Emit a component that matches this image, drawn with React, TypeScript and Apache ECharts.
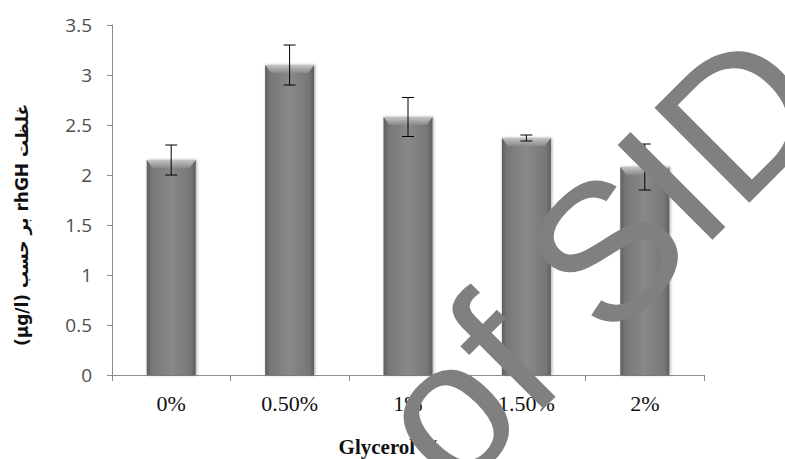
import React, { useEffect, useRef } from "react";
import * as echarts from "echarts";

const categories = ["0%", "0.50%", "1%", "1.50%", "2%"];
const values = [2.15, 3.1, 2.58, 2.37, 2.08];
const errors = [0.15, 0.2, 0.195, 0.03, 0.23];
const yTicks = [0, 0.5, 1, 1.5, 2, 2.5, 3, 3.5];
const xTitle = "Glycerol %";
const yTitle = "(µg/l) بر حسب rhGH غلظت";
const watermark = "of SID";

const BAR_W = 49;

export default function App() {
  const ref = useRef<HTMLDivElement>(null);
  useEffect(() => {
    if (!ref.current) return;
    const chart = echarts.init(ref.current, null, { renderer: "svg" });
    const barGrad = new echarts.graphic.LinearGradient(0, 0, 1, 0, [
      { offset: 0, color: "#5e5e5e" },
      { offset: 0.1, color: "#767676" },
      { offset: 0.5, color: "#898989" },
      { offset: 0.9, color: "#767676" },
      { offset: 1, color: "#5e5e5e" },
    ]);
    chart.setOption({
      animation: false,
      grid: { left: 112, right: 81, top: 25, bottom: 84, containLabel: false },
      xAxis: {
        type: "category",
        data: categories,
        axisLine: { show: true, lineStyle: { color: "#8c8c8c", width: 1 } },
        axisTick: { show: true, length: 6, lineStyle: { color: "#8c8c8c" } },
        axisLabel: {
          color: "#111",
          fontFamily: "Liberation Serif",
          fontSize: 22,
          margin: 17,
        },
      },
      yAxis: {
        type: "value",
        min: 0,
        max: yTicks[yTicks.length - 1],
        interval: 0.5,
        axisLine: { show: true, lineStyle: { color: "#8c8c8c", width: 1 } },
        axisTick: { show: true, length: 5, inside: false, lineStyle: { color: "#8c8c8c" } },
        splitLine: { show: false },
        axisLabel: {
          color: "#505050",
          fontFamily: "Open Sans",
          fontSize: 19,
          margin: 20,
        },
      },
      series: [
        {
          type: "bar",
          data: values,
          barWidth: BAR_W,
          itemStyle: {
            color: barGrad,
            shadowBlur: 3,
            shadowColor: "rgba(0,0,0,0.35)",
            shadowOffsetX: 1,
          },
          z: 2,
        },
        {
          type: "custom",
          data: values.map((v, i) => [i, v, errors[i]]),
          z: 5,
          renderItem: (params: any, api: any) => {
            const i = api.value(0);
            const v = api.value(1);
            const e = api.value(2);
            const top = api.coord([i, v + e]);
            const bot = api.coord([i, v - e]);
            const barTop = api.coord([i, v]);
            const half = BAR_W / 2;
            const cap = 6;
            const bevel = 8;
            return {
              type: "group",
              children: [
                {
                  type: "polygon",
                  shape: {
                    points: [
                      [barTop[0] - half, barTop[1]],
                      [barTop[0] + half, barTop[1]],
                      [barTop[0] + half - 6, barTop[1] + bevel],
                      [barTop[0] - half + 6, barTop[1] + bevel],
                    ],
                  },
                  style: {
                    fill: new echarts.graphic.LinearGradient(0, 0, 0, 1, [
                      { offset: 0, color: "#c4c4c4" },
                      { offset: 1, color: "#8a8a8a" },
                    ]),
                  },
                },
                {
                  type: "line",
                  shape: { x1: top[0], y1: top[1], x2: bot[0], y2: bot[1] },
                  style: { stroke: "#000", lineWidth: 1 },
                },
                {
                  type: "line",
                  shape: { x1: top[0] - cap, y1: top[1], x2: top[0] + cap, y2: top[1] },
                  style: { stroke: "#000", lineWidth: 1 },
                },
                {
                  type: "line",
                  shape: { x1: bot[0] - cap, y1: bot[1], x2: bot[0] + cap, y2: bot[1] },
                  style: { stroke: "#000", lineWidth: 1 },
                },
              ],
            };
          },
        },
      ],
      graphic: [
        {
          type: "text",
          x: 22,
          y: 225,
          rotation: Math.PI / 2,
          style: {
            text: yTitle,
            fontFamily: "DejaVu Sans",
            fontWeight: "bold",
            fontSize: 17,
            fill: "#111",
            align: "center",
            verticalAlign: "middle",
          },
        },
        {
          type: "text",
          x: 390,
          y: 447,
          style: {
            text: xTitle,
            fontFamily: "Liberation Serif",
            fontWeight: "bold",
            fontSize: 21,
            fill: "#111",
            align: "center",
            verticalAlign: "middle",
          },
        },
        {
          type: "text",
          x: 598,
          y: 258,
          rotation: Math.PI / 4,
          z: 100,
          style: {
            text: watermark,
            fontFamily: "Liberation Sans",
            fontSize: 195,
            fill: "#808080",
            align: "center",
            verticalAlign: "middle",
          },
        },
      ],
    });
    return () => chart.dispose();
  }, []);
  return <div ref={ref} style={{ width: 785, height: 459, position: "absolute", left: 0, top: 0 }} />;
}
